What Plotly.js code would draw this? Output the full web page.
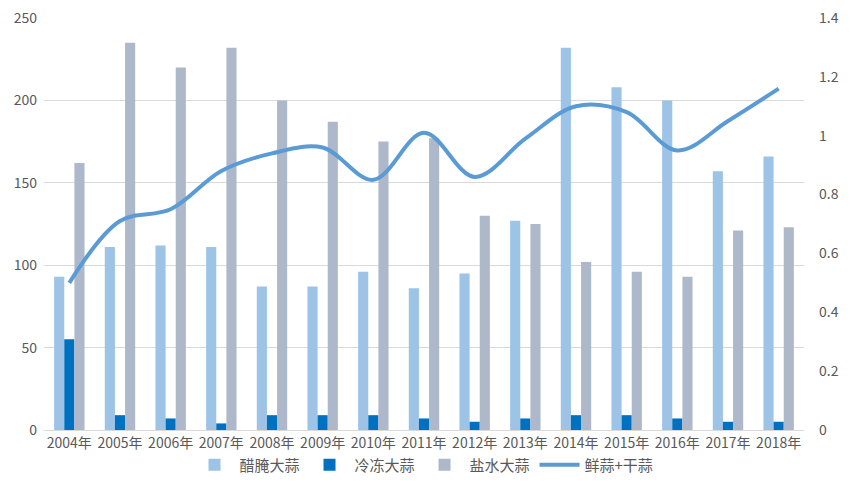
<!DOCTYPE html>
<html><head><meta charset="utf-8">
<script src="https://cdn.plot.ly/plotly-3.0.1.min.js"></script>
<style>html,body{margin:0;padding:0;background:#fff}#chart{width:850px;height:500px}</style>
</head><body><div id="chart"></div>
<script>
const years = ['2004年','2005年','2006年','2007年','2008年','2009年','2010年','2011年','2012年','2013年','2014年','2015年','2016年','2017年','2018年'];
const pickled = [93,111,112,111,87,87,96,86,95,127,232,208,200,157,166];
const frozen = [55,9,7,4,9,9,9,7,5,7,9,9,7,5,5];
const brine = [162,235,220,232,200,187,175,177,130,125,102,96,93,121,123];
const freshDry = [0.50,0.71,0.75,0.88,0.94,0.96,0.85,1.01,0.86,0.99,1.10,1.08,0.95,1.05,1.16];

const cjk = '"Noto Sans CJK SC", "Open Sans", sans-serif';
const traces = [
  {type:'bar', name:'醋腌大蒜', x:years, y:pickled, marker:{color:'#9DC3E6'}},
  {type:'bar', name:'冷冻大蒜', x:years, y:frozen, marker:{color:'#0070C0'}},
  {type:'bar', name:'盐水大蒜', x:years, y:brine, marker:{color:'#ADB9CA'}},
  {type:'scatter', mode:'lines', name:'鲜蒜+干蒜', x:years, y:freshDry, yaxis:'y2',
   line:{color:'#5B9BD5', width:4, shape:'spline', smoothing:1}}
];
const layout = {
  width:850, height:500,
  margin:{l:44, r:46, t:18, b:70},
  paper_bgcolor:'#fff', plot_bgcolor:'#fff',
  barmode:'group', bargap:0.4, bargroupgap:0,
  font:{family:cjk, size:14, color:'#595959'},
  xaxis:{type:'category', showgrid:false, showline:true, linecolor:'#D9D9D9', linewidth:1,
         ticks:'', tickfont:{size:14, color:'#595959'}},
  yaxis:{range:[0,250], dtick:50, showgrid:true, gridcolor:'#D9D9D9', zeroline:false,
         ticks:'', tickfont:{size:14, color:'#595959'}, ticklabelstandoff:6},
  yaxis2:{range:[0,1.4], dtick:0.2, overlaying:'y', side:'right', showgrid:false, zeroline:false,
         ticks:'', tickfont:{size:14, color:'#595959'}, ticklabelstandoff:14},
  showlegend:true,
  legend:{orientation:'h', x:0.5, xanchor:'center', y:-0.045, yanchor:'top',
          bgcolor:'rgba(0,0,0,0)',
          font:{size:15, color:'#595959'}, traceorder:'normal', itemwidth:40}
};
Plotly.newPlot('chart', traces, layout, {displayModeBar:false, staticPlot:true});
</script></body></html>
